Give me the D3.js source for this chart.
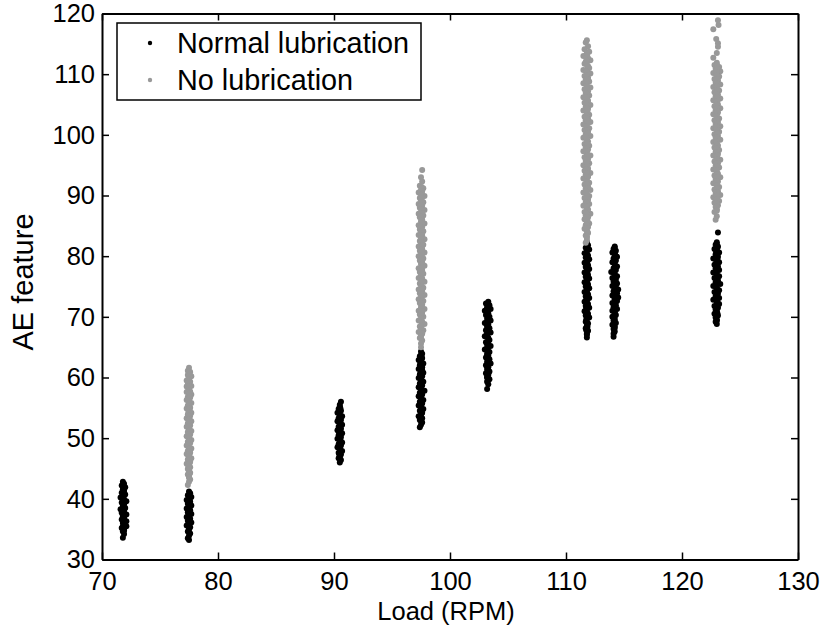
<!DOCTYPE html>
<html>
<head>
<meta charset="utf-8">
<script src="https://cdn.jsdelivr.net/npm/d3@7"></script>
<style>
body { margin: 0; background: #fff; }
text { font-family: "Liberation Sans", Arial, sans-serif; fill: #000; }
</style>
</head>
<body>
<div id="chart-area"></div>
<script>
// AE feature vs load, one array per cluster of [load, ae]
var normal72 = [[71.8,42.8],[71.9,42.5],[71.7,42.2],[72.0,41.9],[71.8,41.6],[71.9,41.3],[71.7,41.0],[72.0,40.7],[71.8,40.5],[71.6,40.2],[71.9,39.9],[72.1,39.6],[71.7,39.4],[71.9,39.1],[71.8,38.8],[72.0,38.5],[71.6,38.3],[71.9,38.0],[71.7,37.7],[72.1,37.4],[71.8,37.1],[71.9,36.9],[71.7,36.6],[72.1,36.3],[71.8,36.0],[71.9,35.7],[72.1,35.5],[71.7,35.2],[71.9,34.9],[71.8,34.6],[71.9,34.2],[71.8,33.6],
    [71.85,42.0],[71.9,41.45],[71.8,40.85],[71.85,40.3],[71.9,39.7],[71.8,39.05],[71.95,38.45],[71.85,37.9],[71.8,37.25],[71.9,36.7],[71.85,36.1],[71.8,35.45],[71.9,34.8]];
var normal77 = [[77.5,41.2],[77.6,40.9],[77.4,40.6],[77.7,40.3],[77.5,40.0],[77.3,39.8],[77.6,39.5],[77.4,39.2],[77.7,38.9],[77.5,38.6],[77.3,38.4],[77.6,38.1],[77.4,37.8],[77.7,37.5],[77.5,37.2],[77.3,37.0],[77.6,36.7],[77.4,36.4],[77.7,36.1],[77.5,35.8],[77.3,35.6],[77.6,35.3],[77.5,35.0],[77.4,34.6],[77.6,34.3],[77.5,33.9],[77.4,33.5],[77.5,33.2],
    [77.5,40.5],[77.55,39.9],[77.45,39.35],[77.5,38.7],[77.55,38.15],[77.45,37.6],[77.5,36.95],[77.55,36.4],[77.45,35.75],[77.5,35.2],[77.5,34.5]];
var normal90 = [[90.6,56.0],[90.5,55.2],[90.4,54.8],[90.6,54.5],[90.3,54.2],[90.5,53.9],[90.7,53.6],[90.4,53.3],[90.6,53.0],[90.3,52.8],[90.5,52.5],[90.7,52.2],[90.4,51.9],[90.6,51.6],[90.3,51.3],[90.5,51.0],[90.7,50.8],[90.4,50.5],[90.6,50.2],[90.3,49.9],[90.5,49.6],[90.7,49.3],[90.4,49.0],[90.6,48.8],[90.3,48.5],[90.5,48.2],[90.7,47.9],[90.4,47.6],[90.6,47.3],[90.5,47.0],[90.4,46.7],[90.6,46.4],[90.5,46.0],
    [90.5,55.5],[90.55,54.95],[90.45,54.4],[90.5,53.75],[90.55,53.15],[90.45,52.6],[90.5,52.0],[90.55,51.4],[90.45,50.85],[90.5,50.25],[90.55,49.7],[90.45,49.1],[90.5,48.55],[90.55,47.95],[90.45,47.4],[90.5,46.8]];
var normal97 = [[97.5,64.3],[97.6,63.9],[97.4,63.5],[97.6,63.2],[97.3,62.9],[97.5,62.6],[97.7,62.3],[97.4,62.0],[97.6,61.7],[97.3,61.4],[97.5,61.1],[97.7,60.8],[97.4,60.5],[97.6,60.2],[97.3,59.9],[97.5,59.6],[97.7,59.3],[97.4,59.0],[97.6,58.7],[97.3,58.4],[97.5,58.1],[97.8,57.8],[97.4,57.5],[97.6,57.2],[97.3,56.9],[97.5,56.6],[97.7,56.3],[97.4,56.0],[97.6,55.7],[97.3,55.4],[97.5,55.1],[97.7,54.8],[97.4,54.5],[97.6,54.2],[97.5,53.9],[97.3,53.6],[97.6,53.3],[97.4,53.0],[97.6,52.6],[97.5,52.2],[97.4,51.8],
    [97.5,63.7],[97.55,63.05],[97.45,62.45],[97.5,61.9],[97.6,61.25],[97.45,60.7],[97.5,60.05],[97.55,59.5],[97.45,58.85],[97.5,58.3],[97.6,57.65],[97.45,57.05],[97.5,56.5],[97.55,55.85],[97.45,55.3],[97.5,54.65],[97.55,54.1],[97.45,53.45],[97.5,52.85]];
var normal103 = [[103.3,72.5],[103.1,72.2],[103.4,71.9],[103.2,71.6],[103.5,71.3],[103.0,71.0],[103.3,70.6],[103.1,70.3],[103.4,70.0],[103.2,69.7],[103.5,69.4],[103.0,69.0],[103.3,68.7],[103.2,68.4],[103.4,68.1],[103.1,67.8],[103.5,67.4],[103.2,67.1],[103.0,66.8],[103.3,66.5],[103.4,66.2],[103.1,65.8],[103.3,65.5],[103.5,65.2],[103.2,64.9],[103.0,64.6],[103.4,64.2],[103.2,63.9],[103.3,63.6],[103.1,63.3],[103.4,63.0],[103.2,62.6],[103.5,62.3],[103.1,62.0],[103.3,61.7],[103.2,61.4],[103.4,61.0],[103.1,60.7],[103.3,60.4],[103.2,60.1],[103.4,59.7],[103.2,59.3],[103.3,58.9],[103.2,58.1],
    [103.25,72.0],[103.3,71.45],[103.2,70.8],[103.25,70.2],[103.3,69.6],[103.2,69.05],[103.25,68.4],[103.3,67.85],[103.2,67.2],[103.25,66.65],[103.3,66.0],[103.2,65.45],[103.25,64.8],[103.3,64.25],[103.2,63.6],[103.25,63.05],[103.3,62.4],[103.2,61.85],[103.25,61.2],[103.3,60.6],[103.2,60.0],[103.25,59.45]];
var normal112 = [[111.8,82.3],[111.9,81.8],[111.7,81.4],[112.0,81.1],[111.8,80.8],[111.6,80.5],[111.9,80.1],[111.7,79.8],[112.0,79.5],[111.8,79.2],[111.6,78.9],[111.9,78.5],[111.7,78.2],[112.0,77.9],[111.8,77.6],[111.6,77.3],[111.9,76.9],[111.7,76.6],[112.0,76.3],[111.8,76.0],[111.6,75.7],[111.9,75.3],[111.7,75.0],[112.0,74.7],[111.8,74.4],[111.6,74.1],[111.9,73.7],[111.7,73.4],[112.0,73.1],[111.8,72.8],[111.6,72.5],[111.9,72.1],[111.7,71.8],[112.0,71.5],[111.8,71.2],[111.6,70.9],[111.9,70.5],[111.7,70.2],[112.0,69.9],[111.8,69.6],[111.7,69.2],[111.9,68.9],[111.8,68.5],[111.7,68.1],[111.9,67.7],[111.8,67.2],[111.8,66.6],
    [111.8,81.6],[111.85,81.0],[111.75,80.35],[111.8,79.75],[111.85,79.15],[111.75,78.6],[111.8,77.95],[111.85,77.4],[111.75,76.75],[111.8,76.2],[111.85,75.55],[111.75,75.0],[111.8,74.35],[111.85,73.8],[111.75,73.15],[111.8,72.6],[111.85,71.95],[111.75,71.4],[111.8,70.75],[111.85,70.2],[111.75,69.55],[111.8,69.0],[111.85,68.35],[111.75,67.8],[111.8,67.1]];
var normal114 = [[114.2,81.6],[114.1,81.2],[114.3,80.9],[114.0,80.6],[114.2,80.3],[114.4,79.9],[114.1,79.6],[114.3,79.3],[114.0,79.0],[114.2,78.7],[114.4,78.3],[114.1,78.0],[114.3,77.7],[113.9,77.4],[114.2,77.1],[114.4,76.7],[114.0,76.4],[114.3,76.1],[114.1,75.8],[114.4,75.5],[114.0,75.1],[114.3,74.8],[114.5,74.5],[114.1,74.2],[114.4,73.9],[114.0,73.5],[114.5,73.2],[114.2,72.9],[114.4,72.6],[114.0,72.3],[114.3,71.9],[114.1,71.6],[114.4,71.3],[114.0,71.0],[114.2,70.7],[114.3,70.3],[114.0,70.0],[114.2,69.7],[114.1,69.4],[114.3,69.0],[114.0,68.7],[114.2,68.4],[114.1,68.0],[114.2,67.6],[114.1,67.2],[114.1,66.7],
    [114.2,81.4],[114.15,80.8],[114.25,80.15],[114.2,79.55],[114.15,78.95],[114.25,78.4],[114.2,77.75],[114.15,77.2],[114.25,76.55],[114.2,76.0],[114.3,75.35],[114.2,74.8],[114.25,74.15],[114.3,73.6],[114.2,72.95],[114.25,72.4],[114.2,71.75],[114.15,71.2],[114.2,70.55],[114.15,70.0],[114.2,69.35],[114.15,68.8],[114.2,68.15],[114.15,67.5]];
var normal123 = [[123.1,83.9],[123.0,82.3],[122.9,81.9],[123.1,81.6],[122.8,81.2],[123.0,80.9],[123.2,80.6],[122.9,80.3],[123.1,79.9],[122.7,79.6],[123.0,79.3],[123.2,79.0],[122.8,78.6],[123.1,78.3],[122.9,78.0],[123.2,77.7],[122.7,77.3],[123.0,77.0],[123.2,76.7],[122.8,76.4],[123.1,76.0],[122.9,75.7],[123.3,75.4],[122.7,75.1],[123.0,74.7],[123.2,74.4],[122.8,74.1],[123.1,73.8],[122.9,73.4],[123.2,73.1],[122.7,72.8],[123.0,72.5],[123.2,72.1],[122.8,71.8],[123.1,71.5],[122.9,71.2],[123.0,70.8],[122.8,70.5],[123.1,70.2],[122.9,69.9],[123.0,69.5],[122.9,69.2],[123.0,68.8],
    [123.0,82.0],[123.05,81.4],[122.95,80.75],[123.0,80.15],[123.05,79.55],[122.95,79.0],[123.0,78.35],[123.05,77.8],[122.95,77.15],[123.0,76.6],[123.05,75.95],[122.95,75.4],[123.0,74.75],[123.05,74.2],[122.95,73.55],[123.0,73.0],[123.05,72.35],[122.95,71.8],[123.0,71.15],[123.05,70.6],[122.95,69.95],[123.0,69.4]];

var dry77 = [[77.5,61.6],[77.4,61.1],[77.6,60.9],[77.4,60.4],[77.7,60.2],[77.5,59.8],[77.3,59.5],[77.6,59.3],[77.4,58.9],[77.7,58.6],[77.3,58.5],[77.5,58.1],[77.6,57.7],[77.3,57.6],[77.7,57.2],[77.4,56.8],[77.6,56.7],[77.3,56.3],[77.5,55.9],[77.7,55.8],[77.4,55.4],[77.6,55.0],[77.3,54.9],[77.5,54.5],[77.7,54.2],[77.4,53.9],[77.6,53.7],[77.3,53.3],[77.5,53.0],[77.7,52.8],[77.4,52.4],[77.6,52.1],[77.3,51.9],[77.5,51.5],[77.7,51.2],[77.4,51.0],[77.6,50.6],[77.3,50.3],[77.5,50.1],[77.7,49.7],[77.4,49.4],[77.6,49.2],[77.3,48.8],[77.5,48.5],[77.7,48.3],[77.4,47.9],[77.6,47.6],[77.3,47.4],[77.5,47.0],[77.7,46.7],[77.4,46.5],[77.6,46.1],[77.3,45.8],[77.5,45.5],[77.6,45.2],[77.4,44.9],[77.5,44.7],[77.6,44.3],[77.4,44.0],[77.5,43.6],[77.6,43.2],[77.5,42.8],[77.4,42.3],
    [77.5,61.0],[77.55,60.35],[77.45,59.75],[77.5,59.1],[77.55,58.55],[77.45,57.9],[77.5,57.35],[77.55,56.7],[77.45,56.15],[77.5,55.5],[77.55,54.95],[77.45,54.3],[77.5,53.75],[77.55,53.1],[77.45,52.55],[77.5,51.9],[77.55,51.35],[77.45,50.7],[77.5,50.15],[77.55,49.5],[77.45,48.95],[77.5,48.3],[77.55,47.75],[77.45,47.1],[77.5,46.55],[77.55,45.9],[77.45,45.35],[77.5,44.7],[77.55,44.15],[77.5,43.5]];
var dry97 = [[97.6,94.2],[97.5,93.0],[97.6,92.3],[97.4,91.6],[97.7,91.2],[97.5,90.9],[97.3,90.5],[97.6,90.2],[97.8,89.9],[97.4,89.6],[97.5,89.2],[97.7,88.9],[97.3,88.6],[97.6,88.3],[97.4,88.0],[97.8,87.6],[97.5,87.3],[97.3,87.0],[97.7,86.7],[97.4,86.4],[97.6,86.0],[97.5,85.7],[97.8,85.4],[97.3,85.1],[97.6,84.8],[97.4,84.4],[97.7,84.1],[97.5,83.8],[97.3,83.5],[97.6,83.2],[97.8,82.8],[97.4,82.5],[97.5,82.2],[97.7,81.9],[97.3,81.6],[97.6,81.2],[97.4,80.9],[97.8,80.6],[97.5,80.3],[97.3,80.0],[97.7,79.6],[97.4,79.3],[97.6,79.0],[97.5,78.7],[97.8,78.4],[97.3,78.0],[97.6,77.7],[97.4,77.4],[97.7,77.1],[97.5,76.8],[97.3,76.4],[97.6,76.1],[97.8,75.8],[97.4,75.5],[97.5,75.2],[97.7,74.8],[97.3,74.5],[97.6,74.2],[97.4,73.9],[97.8,73.6],[97.5,73.2],[97.3,72.9],[97.7,72.6],[97.4,72.3],[97.6,72.0],[97.5,71.6],[97.8,71.3],[97.3,71.0],[97.6,70.7],[97.4,70.4],[97.7,70.0],[97.5,69.7],[97.3,69.4],[97.6,69.1],[97.8,68.8],[97.4,68.4],[97.5,68.1],[97.7,67.8],[97.3,67.5],[97.6,67.2],[97.5,66.8],[97.4,66.5],[97.6,66.1],[97.5,65.6],[97.5,65.0],
    [97.55,91.4],[97.6,90.75],[97.5,90.15],[97.55,89.5],[97.6,88.95],[97.5,88.3],[97.55,87.75],[97.6,87.1],[97.5,86.55],[97.55,85.9],[97.6,85.35],[97.5,84.7],[97.55,84.15],[97.6,83.5],[97.5,82.95],[97.55,82.3],[97.6,81.75],[97.5,81.1],[97.55,80.55],[97.6,79.9],[97.5,79.35],[97.55,78.7],[97.6,78.15],[97.5,77.5],[97.55,76.95],[97.6,76.3],[97.5,75.75],[97.55,75.1],[97.6,74.55],[97.5,73.9],[97.55,73.35],[97.6,72.7],[97.5,72.15],[97.55,71.5],[97.6,70.95],[97.5,70.3],[97.55,69.75],[97.6,69.1],[97.5,68.55],[97.55,67.9],[97.6,67.35],[97.5,66.7]];
var dry112 = [[111.8,115.6],[111.7,115.2],[111.9,114.6],[111.6,114.1],[112.0,113.7],[111.8,113.3],[111.5,113.0],[111.9,112.6],[112.1,112.3],[111.7,112.0],[111.6,111.7],[111.9,111.3],[112.0,111.0],[111.5,110.7],[111.8,110.4],[112.1,110.1],[111.6,109.7],[111.9,109.4],[111.7,109.1],[112.0,108.8],[111.5,108.5],[111.8,108.1],[112.1,107.8],[111.6,107.5],[111.9,107.2],[111.7,106.9],[112.0,106.5],[111.5,106.2],[111.8,105.9],[111.9,105.6],[111.6,105.3],[112.1,104.9],[111.7,104.6],[111.9,104.3],[111.5,104.0],[111.8,103.7],[112.0,103.3],[111.6,103.0],[111.9,102.7],[111.7,102.4],[112.1,102.1],[111.5,101.7],[111.8,101.4],[112.0,101.1],[111.6,100.8],[111.9,100.5],[111.7,100.1],[112.1,99.8],[111.5,99.5],[111.8,99.2],[111.9,98.9],[111.6,98.5],[112.0,98.2],[111.7,97.9],[111.9,97.6],[111.5,97.3],[111.8,96.9],[112.1,96.6],[111.6,96.3],[111.9,96.0],[111.7,95.7],[112.0,95.3],[111.5,95.0],[111.8,94.7],[111.9,94.4],[111.6,94.1],[112.1,93.7],[111.7,93.4],[111.9,93.1],[111.5,92.8],[111.8,92.5],[112.0,92.1],[111.6,91.8],[111.9,91.5],[111.7,91.2],[112.1,90.9],[111.5,90.5],[111.8,90.2],[112.0,89.9],[111.6,89.6],[111.9,89.3],[111.7,88.9],[112.0,88.6],[111.5,88.3],[111.8,88.0],[111.9,87.7],[111.6,87.3],[112.1,87.0],[111.7,86.7],[111.9,86.4],[111.6,86.1],[111.8,85.7],[112.0,85.4],[111.7,85.1],[111.9,84.8],[111.6,84.5],[111.8,84.1],[111.9,83.8],[111.7,83.4],[111.8,83.0],[111.8,82.6],[111.7,82.2],
    [111.8,113.5],[111.85,112.85],[111.75,112.25],[111.8,111.6],[111.85,111.05],[111.75,110.4],[111.8,109.85],[111.85,109.2],[111.75,108.65],[111.8,108.0],[111.85,107.45],[111.75,106.8],[111.8,106.25],[111.85,105.6],[111.75,105.05],[111.8,104.4],[111.85,103.85],[111.75,103.2],[111.8,102.65],[111.85,102.0],[111.75,101.45],[111.8,100.8],[111.85,100.25],[111.75,99.6],[111.8,99.05],[111.85,98.4],[111.75,97.85],[111.8,97.2],[111.85,96.65],[111.75,96.0],[111.8,95.45],[111.85,94.8],[111.75,94.25],[111.8,93.6],[111.85,93.05],[111.75,92.4],[111.8,91.85],[111.85,91.2],[111.75,90.65],[111.8,90.0],[111.85,89.45],[111.75,88.8],[111.8,88.25],[111.85,87.6],[111.75,87.05],[111.8,86.4],[111.85,85.85],[111.75,85.2],[111.8,84.65],[111.85,84.0],[111.8,83.3]];
var dry123 = [[123.1,118.9],[123.15,118.1],[122.7,117.4],[122.95,115.8],[123.1,115.1],[123.1,114.5],[123.0,113.5],[122.7,112.7],[123.0,111.9],[122.8,111.5],[123.2,111.2],[122.9,110.9],[123.3,110.5],[122.7,110.2],[123.0,109.9],[123.2,109.6],[122.8,109.2],[123.1,108.9],[122.9,108.6],[123.3,108.3],[122.7,107.9],[123.0,107.6],[123.2,107.3],[122.8,107.0],[123.1,106.6],[122.9,106.3],[123.3,106.0],[122.7,105.7],[123.0,105.3],[123.1,105.0],[122.8,104.7],[123.3,104.4],[122.9,104.0],[123.1,103.7],[122.7,103.4],[123.0,103.1],[123.2,102.7],[122.8,102.4],[123.1,102.1],[122.9,101.8],[123.3,101.4],[122.7,101.1],[123.0,100.8],[123.2,100.5],[122.8,100.1],[123.1,99.8],[122.9,99.5],[123.3,99.2],[122.7,98.8],[123.0,98.5],[123.1,98.2],[122.8,97.9],[123.2,97.5],[122.9,97.2],[123.1,96.9],[122.7,96.6],[123.0,96.2],[123.3,95.9],[122.8,95.6],[123.1,95.3],[122.9,94.9],[123.2,94.6],[122.7,94.3],[123.0,94.0],[123.1,93.6],[122.8,93.3],[123.3,93.0],[122.9,92.7],[123.1,92.3],[122.7,92.0],[123.0,91.7],[123.2,91.4],[122.8,91.0],[123.1,90.7],[122.9,90.4],[123.3,90.1],[122.7,89.7],[123.0,89.4],[123.2,89.1],[122.8,88.8],[123.1,88.4],[122.9,88.1],[123.0,87.7],[122.8,87.3],[123.0,86.6],[122.9,86.0],
    [123.0,111.6],[123.05,111.0],[122.95,110.35],[123.0,109.75],[123.05,109.15],[122.95,108.55],[123.0,107.95],[123.05,107.4],[122.95,106.75],[123.0,106.15],[123.05,105.55],[122.95,104.95],[123.0,104.35],[123.05,103.8],[122.95,103.15],[123.0,102.55],[123.05,101.95],[122.95,101.35],[123.0,100.75],[123.05,100.2],[122.95,99.55],[123.0,98.95],[123.05,98.35],[122.95,97.75],[123.0,97.15],[123.05,96.6],[122.95,95.95],[123.0,95.35],[123.05,94.75],[122.95,94.15],[123.0,93.55],[123.05,93.0],[122.95,92.35],[123.0,91.75],[123.05,91.15],[122.95,90.55],[123.0,89.95],[123.05,89.4],[122.95,88.75],[123.0,88.15],[123.0,87.5]];

var normalClusters = [normal72, normal77, normal90, normal97, normal103, normal112, normal114, normal123];
var dryClusters = [dry77, dry97, dry112, dry123];

var xTicks = [70, 80, 90, 100, 110, 120, 130];
var yTicks = [30, 40, 50, 60, 70, 80, 90, 100, 110, 120];
var seriesNames = ["Normal lubrication", "No lubrication"];
var seriesColors = ["#000000", "#999999"];

var margin = {top: 13.5, right: 27, bottom: 74.5, left: 102};
var width = 825 - margin.left - margin.right;
var height = 634 - margin.top - margin.bottom;

var svg = d3.select("#chart-area")
    .append("svg")
    .attr("width", 825)
    .attr("height", 634);

var g = svg.append("g")
    .attr("transform", "translate(" + margin.left + "," + margin.top + ")");

var x = d3.scaleLinear().domain([70, 130]).range([0, width]);
var y = d3.scaleLinear().domain([30, 120]).range([height, 0]);

// points: normal first, no lubrication on top
var series = [d3.merge(normalClusters), d3.merge(dryClusters)];
series.forEach(function(pts, i) {
    g.append("g").selectAll("circle")
        .data(pts)
        .enter()
        .append("circle")
        .attr("cx", function(d) { return x(d[0]); })
        .attr("cy", function(d) { return y(d[1]); })
        .attr("r", 3)
        .attr("fill", seriesColors[i]);
});

// box axes with inward ticks
function styleAxis(sel) {
    sel.attr("font-family", null).attr("font-size", null);
    sel.select(".domain").attr("stroke-width", 2);
    sel.selectAll(".tick line").attr("stroke-width", 1.5);
    sel.selectAll(".tick text").style("font-size", "25.5px");
}

g.append("g")
    .attr("transform", "translate(0," + height + ")")
    .call(d3.axisBottom(x).tickValues(xTicks).tickSizeInner(-7).tickSizeOuter(0).tickPadding(12.5))
    .call(styleAxis);
g.append("g")
    .call(d3.axisTop(x).tickValues(xTicks).tickSizeInner(-7).tickSizeOuter(0).tickFormat(""))
    .call(styleAxis);
g.append("g")
    .call(d3.axisLeft(y).tickValues(yTicks).tickSizeInner(-7).tickSizeOuter(0).tickPadding(7))
    .call(styleAxis);
g.append("g")
    .attr("transform", "translate(" + width + ",0)")
    .call(d3.axisRight(y).tickValues(yTicks).tickSizeInner(-7).tickSizeOuter(0).tickFormat(""))
    .call(styleAxis);

// axis titles
svg.append("text")
    .attr("x", margin.left + width / 2 - 4)
    .attr("y", 620)
    .attr("text-anchor", "middle")
    .style("font-size", "25.5px")
    .text("Load (RPM)");

svg.append("text")
    .attr("transform", "translate(33,282) rotate(-90)")
    .attr("text-anchor", "middle")
    .style("font-size", "29px")
    .text("AE feature");

// legend
var legend = svg.append("g").attr("transform", "translate(117,23)");
legend.append("rect")
    .attr("width", 304)
    .attr("height", 77)
    .attr("fill", "#fff")
    .attr("stroke", "#000")
    .attr("stroke-width", 1.5);

seriesNames.forEach(function(name, i) {
    legend.append("circle")
        .attr("cx", 33)
        .attr("cy", 20 + i * 37)
        .attr("r", 2.2)
        .attr("fill", seriesColors[i]);
    legend.append("text")
        .attr("x", 60)
        .attr("y", 30 + i * 37)
        .style("font-size", "28.8px")
        .text(name);
});
</script>
</body>
</html>
